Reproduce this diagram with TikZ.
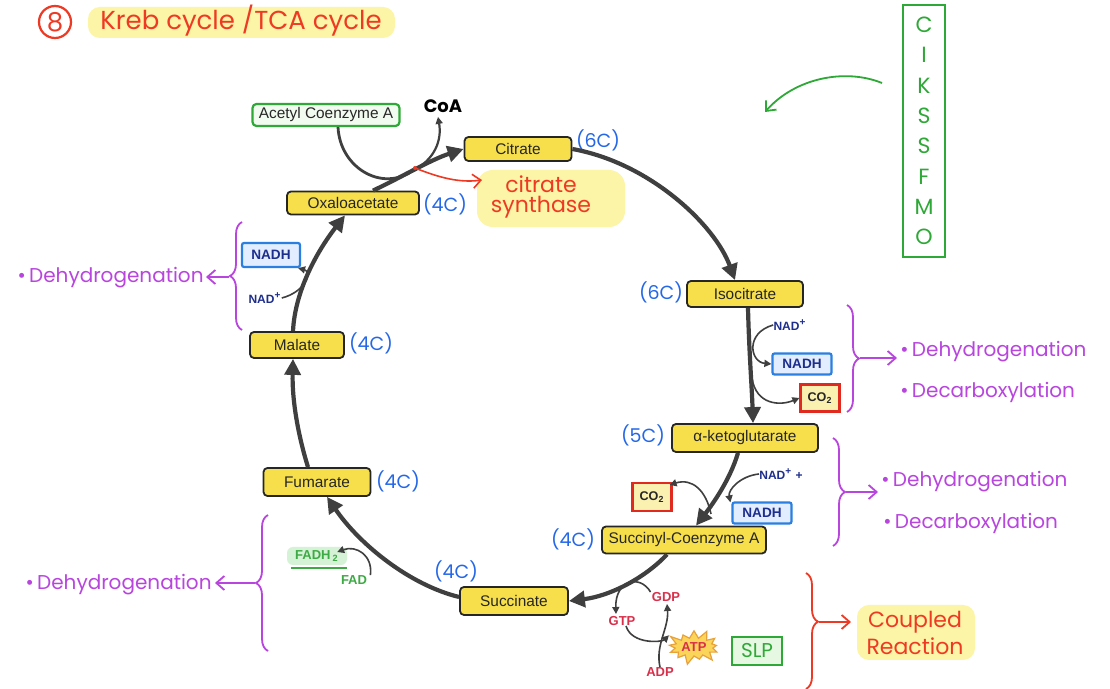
\documentclass[tikz,border=0pt]{standalone}
\usepackage{fontspec}
\setmainfont{Liberation Sans}
\newfontfamily\hand{Poppins}
\usetikzlibrary{arrows.meta,shapes.symbols,decorations.pathreplacing,calc}

\definecolor{boxyellow}{HTML}{F6DF4A}
\definecolor{arrowgray}{HTML}{3F3F3F}
\definecolor{cblue}{HTML}{2468E8}
\definecolor{notepurple}{HTML}{B845DE}
\definecolor{titlered}{HTML}{EE3A24}
\definecolor{hilite}{HTML}{FCF4A6}
\definecolor{mgreen}{HTML}{2EA836}
\definecolor{lgreen}{HTML}{E6F7E2}
\definecolor{nadhblue}{HTML}{2B7FE0}
\definecolor{nadhfill}{HTML}{E2EEFF}
\definecolor{nadtext}{HTML}{1E2E8C}
\definecolor{co2red}{HTML}{E02A20}
\definecolor{co2fill}{HTML}{FAF0B0}
\definecolor{gred}{HTML}{D8304A}
\definecolor{fadgreen}{HTML}{3DAA45}
\definecolor{fadfill}{HTML}{D6F2D6}
\definecolor{starfill}{HTML}{FBD45A}
\definecolor{staredge}{HTML}{E9A23A}

\begin{document}
\begin{tikzpicture}[x=0.5pt,y=0.5pt,
  stage/.style={draw=black!85, line width=0.9pt, fill=boxyellow, rounded corners=2pt,
    inner sep=0pt, font=\fontsize{7.7}{9}\selectfont, text=black!85},
  cyc/.style={draw=arrowgray, line width=2.1pt, -{Triangle[length=8pt,width=8pt]}},
  side/.style={draw=arrowgray, line width=0.8pt, -{Triangle[length=3.5pt,width=3.5pt]}},
  carbon/.style={text=cblue, font=\hand\fontsize{9.5}{11}\selectfont, inner sep=0pt},
  note/.style={text=notepurple, font=\hand\fontsize{10}{12}\selectfont, inner sep=0pt, anchor=west},
  nadh/.style={draw=nadhblue, line width=1.1pt, fill=nadhfill, rounded corners=1pt, text=nadtext,
    font=\bfseries\fontsize{6.8}{8}\selectfont, minimum height=10.5pt, inner sep=0pt},
  nadp/.style={text=nadtext, font=\bfseries\fontsize{6}{7}\selectfont, inner sep=0pt},
  co2box/.style={draw=co2red, line width=1.1pt, fill=co2fill, text=black!85,
    font=\bfseries\fontsize{6.3}{7}\selectfont, minimum width=19.5pt, minimum height=13.5pt, inner sep=0pt},
  gnp/.style={text=gred, font=\bfseries\fontsize{6.5}{7}\selectfont, inner sep=0pt},
  pbrace/.style={draw=notepurple, line width=0.9pt, decorate, decoration={brace, amplitude=6pt}},
  pbarrow/.style={draw=notepurple, line width=0.9pt, -{Straight Barb[length=4pt,width=7pt]}},
]
\useasboundingbox (0,0) rectangle (1110,-689);
\fill[white] (0,0) rectangle (1110,-689);

% ---- title ----
\fill[hilite, rounded corners=6pt] (88,-7) rectangle (395,-38);
\node[circle, draw=titlered, line width=1.1pt, minimum size=16pt, inner sep=0pt,
  text=titlered, font=\hand\fontsize{13}{14}\selectfont] (num) at (55,-22) {8};
\node[text=titlered, font=\hand\fontsize{13}{14}\selectfont, inner sep=0pt] (title) at (241,-21) {Kreb cycle /TCA cycle};

% ---- mnemonic column ----
\node[draw=mgreen, line width=1pt, minimum width=21pt, minimum height=126pt, inner sep=0pt,
  text=mgreen, font=\hand\fontsize{11}{15.15}\selectfont, align=center] (mnem) at (924,-131)
  {C\\I\\K\\S\\S\\F\\M\\O};
\coordinate (mnemA) at (882,-83);
\coordinate (mnemB) at (765,-112);
\draw[mgreen, line width=0.9pt, -{Straight Barb[length=4pt,width=7pt]}]
  (mnemA) .. controls (845,-68) and (795,-78) .. (mnemB);

% ---- highlights behind handwritten notes ----
\fill[hilite, rounded corners=8pt] (477,-170) rectangle (625,-227);
\fill[hilite, rounded corners=6pt] (857,-605) rectangle (975,-660);
\fill[fadfill, rounded corners=3pt] (287,-547) rectangle (347,-565);

% ---- cycle intermediates ----
\node[stage, draw=mgreen, line width=1.1pt, fill=lgreen!50, minimum width=73.5pt, minimum height=11pt] (acetyl) at (326,-115) {Acetyl Coenzyme A};
\node[stage, minimum width=53.5pt, minimum height=12pt] (cit)  at (518,-149) {Citrate};
\node[stage, minimum width=66pt, minimum height=11.5pt] (oxa) at (353,-203) {Oxaloacetate};
\node[stage, minimum width=58pt, minimum height=13pt] (iso)  at (745,-294) {Isocitrate};
\node[stage, minimum width=73pt, minimum height=14pt] (akg)  at (745,-438) {α-ketoglutarate};
\node[stage, minimum width=82pt, minimum height=13.5pt] (suc) at (684,-540) {Succinyl-Coenzyme A};
\node[stage, minimum width=54pt, minimum height=14pt] (succ) at (514,-601) {Succinate};
\node[stage, minimum width=53.5pt, minimum height=14pt] (fum) at (317,-482) {Fumarate};
\node[stage, minimum width=47pt, minimum height=13pt] (mal)  at (297,-345) {Malate};

% ---- carbon counts ----
\node[carbon] (cC)  at (598,-140) {(6C)};
\node[carbon] (cO)  at (445,-204) {(4C)};
\node[carbon] (cI)  at (661,-292) {(6C)};
\node[carbon] (cK)  at (643,-435) {(5C)};
\node[carbon] (cS)  at (573,-539) {(4C)};
\node[carbon] (cSu) at (456,-571) {(4C)};
\node[carbon] (cF)  at (398,-481) {(4C)};
\node[carbon] (cM)  at (371,-343) {(4C)};

% ---- main cycle ----
\draw[cyc] (cit.east) .. controls (650,-163) and (715,-225) .. ($(iso.north)+(-10,0)$);
\draw[cyc] ($(iso.south)+(3,0)$) .. controls (749,-350) and (752,-390) .. ($(akg.north)+(8,0)$);
\draw[cyc] ($(akg.south)+(-7,0)$) .. controls (730,-480) and (712,-505) .. ($(suc.north)+(12,0)$);
\draw[cyc] ($(suc.south)+(-17,0)$) .. controls (645,-578) and (610,-596) .. (succ.east);
\draw[cyc] ($(succ.west)+(0,4)$) .. controls (410,-585) and (360,-545) .. ($(fum.south)+(10,0)$);
\draw[cyc] ($(fum.north)+(-9,0)$) .. controls (298,-435) and (292,-400) .. ($(mal.south)+(-4,0)$);
\draw[cyc] ($(mal.north)+(-4,0)$) .. controls (295,-290) and (318,-250) .. ($(oxa.south)+(-8,0)$);
\draw[cyc] ($(oxa.north)+(20,0)$) .. controls (400,-178) and (430,-160) .. (cit.west);

% ---- acetyl-CoA entry, CoA release and citrate synthase ----
\coordinate (jn) at (412,-171);
\node[font=\hand\bfseries\fontsize{9}{10}\selectfont, inner sep=0pt] (coa) at (443,-106) {CoA};
\draw[arrowgray, line width=1.4pt] ($(acetyl.south)+(12,0)$) .. controls (340,-168) and (382,-192) .. (jn);
\draw[side, line width=1.1pt] (jn) .. controls (435,-160) and (442,-140) .. ($(coa.south)+(-5,-4)$);
\node[text=titlered, font=\hand\fontsize{11}{10}\selectfont, align=center, inner sep=0pt] (syn) at (541,-197) {citrate\\synthase};
\coordinate (synA) at (415,-168);
\coordinate (synB) at (482,-180);
\fill[titlered] (synA) circle (2);
\draw[titlered, line width=0.8pt, -{Straight Barb[length=4pt,width=7pt]}] (synA) .. controls (440,-178) and (460,-183) .. (synB);

% ---- isocitrate -> alpha-ketoglutarate ----
\node[nadp] (nadA) at (790,-325) {NAD\textsuperscript{+}};
\node[nadh, minimum width=29.5pt] (nadhA) at (802,-364) {NADH};
\node[co2box] (co2A) at (820,-398) {CO\textsubscript{2}};
\coordinate (brA) at (752,-378);
\draw[side] (nadA.west) .. controls (745,-333) and (750,-362) .. (nadhA.west);
\draw[side] (brA) .. controls (756,-405) and (780,-406) .. (co2A.west);

% ---- alpha-ketoglutarate -> succinyl-CoA ----
\node[nadp] (nadB) at (781,-474) {NAD\textsuperscript{+} +};
\node[nadh, minimum width=29.5pt] (nadhB) at (762,-513) {NADH};
\node[co2box, minimum width=19.5pt, minimum height=14pt] (co2B) at (652,-497) {CO\textsubscript{2}};
\coordinate (brB) at (711,-514);
\draw[side] (nadB.west) .. controls (740,-476) and (728,-490) .. ($(nadhB.north west)+(-1,-1)$);
\draw[side] (brB) .. controls (706,-490) and (692,-478) .. ($(co2B.north east)+(-3,-3)$);

% ---- succinyl-CoA -> succinate ----
\node[gnp] (gdp) at (666,-597) {GDP};
\node[gnp] (gtp) at (622,-621) {GTP};
\node[gnp] (adp) at (660,-672) {ADP};
\node[starburst, starburst points=13, starburst point height=5pt, fill=starfill, draw=staredge,
  line width=0.6pt, minimum width=29pt, minimum height=19pt, inner sep=0pt,
  text=gred, font=\bfseries\fontsize{6.5}{7}\selectfont] (atp) at (694,-647) {ATP};
\node[draw=mgreen, line width=1pt, fill=lgreen, minimum width=25pt, minimum height=14pt, inner sep=0pt,
  text=mgreen, font=\hand\fontsize{10}{11}\selectfont] (slp) at (757,-651) {SLP};
\draw[side] ($(gdp.north west)+(-1,0)$) .. controls (640,-574) and (615,-580) .. ($(gtp.north)+(-6,2)$);
\draw[side] ($(gtp.south)+(4,0)$) .. controls (632,-645) and (662,-642) .. (atp.155);
\draw[side] (adp.north) .. controls (655,-645) and (669,-628) .. ($(gdp.south)+(1,-2)$);

% ---- succinate -> fumarate ----
\node[text=fadgreen, font=\bfseries\fontsize{6.5}{7}\selectfont, inner sep=0pt] (fadh) at (317,-556) {FADH\,\textsubscript{2}};
\node[text=fadgreen, font=\bfseries\fontsize{6.5}{7}\selectfont, inner sep=0pt] (fad) at (354,-580) {FAD};
\draw[fadgreen, line width=0.9pt] ($(fadh.south west)+(-4,-6)$) -- ($(fadh.south east)+(8,-6)$);
\draw[side] ($(fad.north east)+(3,0)$) .. controls (373,-555) and (356,-545) .. ($(fadh.north east)+(-2,-2)$);

% ---- malate -> oxaloacetate ----
\node[nadh, minimum width=29pt, minimum height=12pt] (nadhC) at (271,-255) {NADH};
\node[nadp] (nadC) at (265,-298) {NAD\textsuperscript{+}};
\draw[side] (nadC.east) .. controls (305,-292) and (313,-272) .. ($(nadhC.south east)+(-3,0)$);

% ---- reaction-type notes ----
\draw[pbrace] (242,-330) -- (242,-222);
\draw[pbarrow] (229,-277) -- (206,-277);
\node[note, anchor=east] (noteM) at (204,-278) {\textbullet\,Dehydrogenation};

\draw[pbrace] (268,-651) -- (268,-515);
\draw[pbarrow] (255,-583) -- (215,-583);
\node[note, anchor=east] (noteF) at (212,-585) {\textbullet\,Dehydrogenation};

\draw[pbrace] (847,-305) -- (847,-412);
\draw[pbarrow] (860,-358) -- (897,-358);
\node[note] (noteI1) at (900,-352) {\textbullet\,Dehydrogenation};
\node[note] (noteI2) at (900,-392) {\textbullet\,Decarboxylation};

\draw[pbrace] (833,-438) -- (833,-546);
\draw[pbarrow] (846,-492) -- (878,-492);
\node[note] (noteK1) at (881,-482) {\textbullet\,Dehydrogenation};
\node[note] (noteK2) at (883,-523) {\textbullet\,Decarboxylation};

\draw[titlered, line width=0.9pt, decorate, decoration={brace, amplitude=6pt, aspect=0.42}] (806,-573) -- (806,-689);
\draw[titlered, line width=0.9pt, -{Straight Barb[length=4pt,width=7pt]}] (819,-622) -- (851,-622);
\node[text=titlered, font=\hand\fontsize{11}{13.5}\selectfont, align=center, inner sep=0pt] (coupled) at (915,-633) {Coupled\\Reaction};
\end{tikzpicture}
\end{document}
